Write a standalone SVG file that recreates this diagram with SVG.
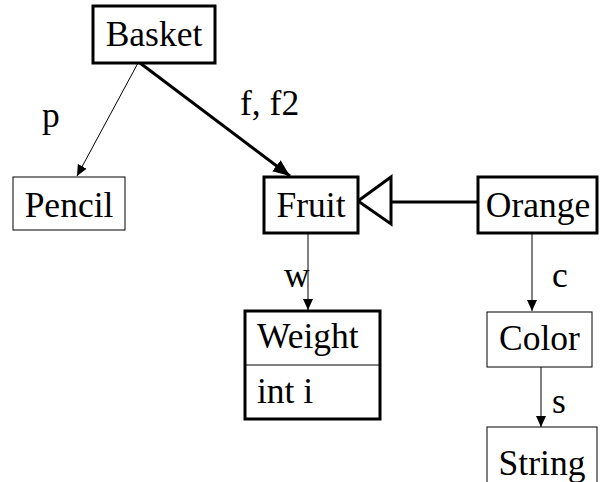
<svg xmlns="http://www.w3.org/2000/svg" width="600" height="482" viewBox="0 0 600 482">
<style>
text{font-family:"Liberation Serif","Times New Roman",serif;font-size:35.5px;fill:#000}
.c{text-anchor:middle}
.thick{fill:#fff;stroke:#000;stroke-width:3}
.thin{fill:#fff;stroke:#000;stroke-width:1}
.l1{stroke:#000;stroke-width:1;fill:none}
.l3{stroke:#000;stroke-width:3;fill:none}
</style>
<defs>
<marker id="a1" markerUnits="userSpaceOnUse" markerWidth="12" markerHeight="12" refX="11" refY="6" orient="auto" viewBox="0 0 12 12">
<path d="M0,1 L11,6 L0,11 Z" fill="#000"/>
</marker>
<marker id="a3" markerUnits="userSpaceOnUse" markerWidth="18" markerHeight="16" refX="17" refY="8" orient="auto" viewBox="0 0 18 16">
<path d="M0,1 L17,8 L0,15 Z" fill="#000"/>
</marker>
</defs>
<g id="connectors">
<line class="l1" x1="138" y1="63" x2="77" y2="176" marker-end="url(#a1)"/>
<line class="l3" x1="140" y1="63" x2="290" y2="176" marker-end="url(#a3)"/>
<line class="l3" x1="391" y1="202" x2="478" y2="202"/>
<polygon points="358,201 391,177 391,224" fill="#fff" stroke="#000" stroke-width="3" stroke-linejoin="miter"/>
<line class="l1" x1="308" y1="233" x2="308" y2="310" marker-end="url(#a1)"/>
<line class="l1" x1="532" y1="233" x2="532" y2="311" marker-end="url(#a1)"/>
<line class="l1" x1="541" y1="367" x2="541" y2="427" marker-end="url(#a1)"/>
<text x="42" y="127">p</text>
<text x="240" y="115">f, f2</text>
<text x="284" y="287">w</text>
<text x="552" y="287">c</text>
<text x="552" y="413">s</text>
</g>
<g id="basket"><rect class="thick" x="93" y="6" width="122" height="57"/><text class="c" x="154" y="46">Basket</text></g>
<g id="pencil"><rect class="thin" x="13" y="177" width="112" height="53"/><text class="c" x="69" y="217">Pencil</text></g>
<g id="fruit"><rect class="thick" x="264" y="177" width="94" height="56"/><text class="c" x="311" y="217">Fruit</text></g>
<g id="orange"><rect class="thick" x="478" y="177" width="119" height="56"/><text class="c" x="538" y="217">Orange</text></g>
<g id="weight"><rect class="thick" x="245" y="311" width="135" height="108"/><line class="l1" x1="245" y1="365" x2="380" y2="365"/><text x="257" y="348">Weight</text><text x="257" y="403">int i</text></g>
<g id="color"><rect class="thin" x="487" y="312" width="105" height="55"/><text class="c" x="539.5" y="350">Color</text></g>
<g id="string"><rect class="thin" x="487" y="427" width="110" height="70"/><text class="c" x="542" y="475">String</text></g>
</svg>
